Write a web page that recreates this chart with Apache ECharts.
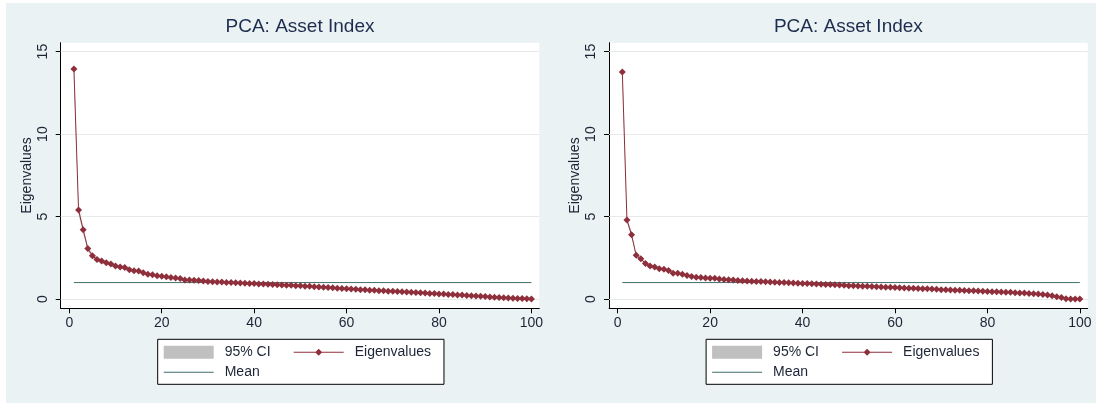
<!DOCTYPE html>
<html>
<head>
<meta charset="utf-8">
<script src="https://cdn.jsdelivr.net/npm/echarts@6/dist/echarts.min.js"></script>
<style>
  html, body { margin: 0; padding: 0; background: #fff; }
  #chart { position: absolute; left: 6px; top: 3px; width: 1090px; height: 400px; }
</style>
</head>
<body>
<div id="chart"></div>
<script>
// component numbers on the x axis
const components = Array.from({ length: 100 }, (_, i) => i + 1)
const xTicks = [0, 20, 40, 60, 80, 100]
const yTicks = [0, 5, 10, 15]
const meanEig = 1

// left panel eigenvalues
const eigLeft = [
  13.95, 5.40, 4.20, 3.07, 2.62, 2.40, 2.30, 2.20, 2.13, 2.00,
  1.95, 1.92, 1.78, 1.72, 1.70, 1.60, 1.50, 1.47, 1.42, 1.38,
  1.35, 1.31, 1.27, 1.24, 1.16, 1.15, 1.14, 1.12, 1.10, 1.07,
  1.05, 1.04, 1.03, 1.01, 1.00, 0.99, 0.97, 0.96, 0.95, 0.94,
  0.92, 0.91, 0.90, 0.88, 0.87, 0.85, 0.84, 0.83, 0.81, 0.80,
  0.78, 0.77, 0.75, 0.73, 0.71, 0.70, 0.68, 0.66, 0.64, 0.62,
  0.61, 0.59, 0.57, 0.56, 0.54, 0.53, 0.51, 0.50, 0.48, 0.47,
  0.46, 0.44, 0.43, 0.41, 0.40, 0.38, 0.36, 0.34, 0.33, 0.31,
  0.30, 0.28, 0.27, 0.25, 0.24, 0.22, 0.20, 0.18, 0.17, 0.15,
  0.13, 0.11, 0.09, 0.08, 0.06, 0.05, 0.04, 0.03, 0.02, 0.01
]
// right panel eigenvalues
const eigRight = [
  13.77, 4.80, 3.90, 2.65, 2.44, 2.16, 2.00, 1.95, 1.84, 1.80,
  1.73, 1.57, 1.56, 1.50, 1.43, 1.37, 1.32, 1.31, 1.27, 1.26,
  1.26, 1.22, 1.19, 1.17, 1.16, 1.13, 1.11, 1.09, 1.08, 1.07,
  1.06, 1.05, 1.03, 1.02, 1.01, 1.00, 0.99, 0.97, 0.96, 0.95,
  0.94, 0.93, 0.91, 0.90, 0.89, 0.88, 0.87, 0.85, 0.83, 0.81,
  0.80, 0.79, 0.78, 0.77, 0.76, 0.75, 0.73, 0.72, 0.71, 0.70,
  0.69, 0.67, 0.66, 0.65, 0.64, 0.63, 0.62, 0.61, 0.59, 0.57,
  0.56, 0.55, 0.54, 0.53, 0.52, 0.51, 0.50, 0.49, 0.48, 0.46,
  0.45, 0.44, 0.43, 0.42, 0.41, 0.39, 0.37, 0.36, 0.34, 0.32,
  0.30, 0.27, 0.24, 0.20, 0.14, 0.09, 0.02, 0.01, 0.01, 0.00
]
// 95% CI bounds, only visible for the first components
const ciLowLeft = [13.22, 5.12, 3.98, 2.91, 2.48, 2.28, 2.18, 2.09, 2.02, 1.90, 1.85, 1.82]
const ciHighLeft = [14.68, 5.68, 4.42, 3.23, 2.76, 2.52, 2.42, 2.31, 2.24, 2.10, 2.05, 2.02]
const ciLowRight = [13.22, 4.61, 3.74, 2.54, 2.34, 2.07, 1.92, 1.87, 1.77, 1.73, 1.66, 1.51]
const ciHighRight = [14.32, 4.99, 4.06, 2.76, 2.54, 2.25, 2.08, 2.03, 1.91, 1.87, 1.80, 1.63]

const FONT = '"Liberation Sans", Arial, sans-serif'
const INK = '#1c2436'
const MAROON = '#8e2f3b'
const TEAL = '#3f6f69'
const SHIFT = 548.4

// legend icons: 50x13 boxes, line in the middle (tiny corner dots keep the box size)
const EIG_ICON = 'path://M0,0L0.01,0L0.01,0.01Z M50,13L49.99,13L49.99,12.99Z ' +
  'M0,6L22,6L25,3L28,6L50,6L50,7L28,7L25,10L22,7L0,7Z'
const MEAN_ICON = 'path://M0,0L0.01,0L0.01,0.01Z M50,13L49.99,13L49.99,12.99Z M0,6L50,6L50,7L0,7Z'

var chart = echarts.init(document.getElementById('chart'))

function ciSeries(i, lo, hi) {
  const rows = lo.map((v, j) => [components[j], v, hi[j]])
  return {
    name: '95% CI',
    type: 'custom',
    xAxisIndex: i,
    yAxisIndex: i,
    data: rows,
    encode: { x: 0, y: [1, 2] },
    itemStyle: { color: '#c0c0c0' },
    silent: true,
    z: 2,
    renderItem(params, api) {
      if (params.dataIndex !== 0) return null
      const top = rows.map(r => api.coord([r[0], r[2]]))
      const bot = rows.map(r => api.coord([r[0], r[1]])).reverse()
      return { type: 'polygon', shape: { points: top.concat(bot) }, style: { fill: '#cdcdcd' } }
    }
  }
}

function panelSeries(i, eig, lo, hi) {
  return [
    {
      // grid lines
      type: 'line',
      xAxisIndex: i,
      yAxisIndex: i,
      data: [],
      silent: true,
      z: 1,
      markLine: {
        silent: true,
        z: 1,
        symbol: ['none', 'none'],
        label: { show: false },
        lineStyle: { color: '#e6eaeb', width: 1, type: 'solid' },
        data: yTicks.map(v => ({ yAxis: v }))
      }
    },
    ciSeries(i, lo, hi),
    {
      name: 'Mean',
      type: 'line',
      xAxisIndex: i,
      yAxisIndex: i,
      data: [[components[0], meanEig], [components[components.length - 1], meanEig]],
      symbol: 'none',
      lineStyle: { color: TEAL, width: 1 },
      itemStyle: { color: TEAL },
      z: 3
    },
    {
      name: 'Eigenvalues',
      type: 'line',
      xAxisIndex: i,
      yAxisIndex: i,
      data: components.map((k, j) => [k, eig[j]]),
      symbol: 'diamond',
      symbolSize: 7,
      lineStyle: { color: MAROON, width: 1 },
      itemStyle: { color: MAROON },
      z: 4
    }
  ]
}

const labelText = { fontSize: 14, fontFamily: FONT, color: INK }
const axisBlack = { show: true, onZero: false, lineStyle: { color: '#000', width: 1 } }

const option = {
  animation: false,
  backgroundColor: '#eaf2f3',
  title: [0, 1].map(i => ({
    text: 'PCA: Asset Index',
    left: 294 + i * SHIFT,
    top: 14,
    textAlign: 'center',
    padding: 0,
    textStyle: { fontSize: 19, fontWeight: 'normal', fontFamily: FONT, color: '#1d2c4e' }
  })),
  grid: [0, 1].map(i => ({
    left: 54.7 + i * SHIFT,
    top: 39.7,
    width: 478.6,
    height: 265.6,
    show: true,
    backgroundColor: '#fff',
    borderWidth: 0
  })),
  xAxis: [0, 1].map(i => ({
    gridIndex: i,
    type: 'value',
    min: -1.86,
    max: 101.7,
    axisLine: axisBlack,
    axisTick: { show: true, length: 5, customValues: xTicks, lineStyle: { color: '#000' } },
    axisLabel: Object.assign({ customValues: xTicks, margin: 8 }, labelText),
    splitLine: { show: false }
  })),
  yAxis: [0, 1].map(i => ({
    gridIndex: i,
    type: 'value',
    min: -0.56,
    max: 15.54,
    name: 'Eigenvalues',
    nameLocation: 'middle',
    nameGap: 27,
    nameTextStyle: labelText,
    axisLine: axisBlack,
    axisTick: { show: true, length: 5, customValues: yTicks, lineStyle: { color: '#000' } },
    axisLabel: Object.assign({ customValues: yTicks, rotate: 90, margin: 11 }, labelText),
    splitLine: { show: false }
  })),
  legend: [0, 1].map(i => ({
    left: 151.7 + i * SHIFT,
    top: 336.3,
    width: 290,
    orient: 'horizontal',
    padding: [6, 13, 5, 6],
    itemGap: 6,
    itemWidth: 50,
    itemHeight: 13,
    backgroundColor: '#fff',
    borderColor: '#000',
    borderWidth: 1,
    borderRadius: 0,
    selectedMode: false,
    formatter: name => '{t|' + name + '}',
    textStyle: Object.assign({
      rich: { t: Object.assign({ width: 63, padding: [0, 0, 0, 6], lineHeight: 14 }, labelText) }
    }, labelText),
    data: [
      { name: '95% CI', icon: 'rect', itemStyle: { color: '#c0c0c0', borderWidth: 0 } },
      { name: 'Eigenvalues', icon: EIG_ICON, itemStyle: { color: MAROON, borderWidth: 0 } },
      { name: 'Mean', icon: MEAN_ICON, itemStyle: { color: TEAL, borderWidth: 0 } }
    ]
  })),
  series: [
    ...panelSeries(0, eigLeft, ciLowLeft, ciHighLeft),
    ...panelSeries(1, eigRight, ciLowRight, ciHighRight)
  ]
}

chart.setOption(option)
</script>
</body>
</html>
